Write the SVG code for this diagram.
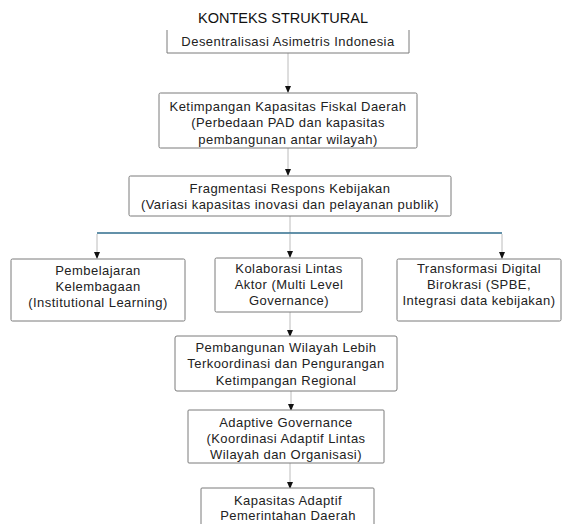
<svg xmlns="http://www.w3.org/2000/svg" width="569" height="524" viewBox="0 0 569 524">
<defs>
<style>
.box{fill:#fff;stroke:#7a7a7a;stroke-width:1}
.t{font-family:"Liberation Sans",Arial,sans-serif;font-size:13px;letter-spacing:0.45px;fill:#222;text-anchor:middle}
.title{font-family:"Liberation Sans",Arial,sans-serif;font-size:14.5px;fill:#111;text-anchor:middle}
.c{stroke:#b4b4b4;stroke-width:0.9;fill:none}
.blue{stroke:#2f6d8c;stroke-width:1.6;fill:none}
</style>
<marker id="ah" markerWidth="7" markerHeight="6" refX="6" refY="3" orient="auto" markerUnits="userSpaceOnUse">
<path d="M0,0 L7,3 L0,6 Z" fill="#111"/>
</marker>
</defs>
<text class="title" x="283" y="23">KONTEKS STRUKTURAL</text>
<g id="connectors">
<line class="c" x1="288" y1="53" x2="288" y2="92" marker-end="url(#ah)"/>
<line class="c" x1="288" y1="148" x2="288" y2="175" marker-end="url(#ah)"/>
<line class="c" x1="290" y1="216" x2="290" y2="233"/>
<line class="blue" x1="97" y1="233" x2="502" y2="233"/>
<line class="c" x1="97" y1="234" x2="97" y2="258" marker-end="url(#ah)"/>
<line class="c" x1="290" y1="234" x2="290" y2="257" marker-end="url(#ah)"/>
<line class="c" x1="502" y1="234" x2="502" y2="258" marker-end="url(#ah)"/>
<line class="c" x1="290" y1="312" x2="290" y2="336" marker-end="url(#ah)"/>
<line class="c" x1="291" y1="391" x2="291" y2="410" marker-end="url(#ah)"/>
<line class="c" x1="290" y1="463" x2="290" y2="488" marker-end="url(#ah)"/>
</g>
<g id="n1">
<rect x="167" y="30" width="242" height="23" fill="#fff"/>
<path class="box" d="M167,30 V53 H409 V30" fill="none"/>
<text class="t" x="288" y="46">Desentralisasi Asimetris Indonesia</text>
</g>
<g id="n2">
<rect class="box" x="159" y="93" width="258" height="55" rx="1.5"/>
<text class="t" x="288" y="111">Ketimpangan Kapasitas Fiskal Daerah</text>
<text class="t" x="288" y="127">(Perbedaan PAD dan kapasitas</text>
<text class="t" x="288" y="144">pembangunan antar wilayah)</text>
</g>
<g id="n3">
<rect class="box" x="129" y="176" width="322" height="40" rx="1.5"/>
<text class="t" x="290" y="193">Fragmentasi Respons Kebijakan</text>
<text class="t" x="290" y="209">(Variasi kapasitas inovasi dan pelayanan publik)</text>
</g>
<g id="n4">
<rect class="box" x="11" y="259" width="174" height="62" rx="1.5"/>
<text class="t" x="98" y="275">Pembelajaran</text>
<text class="t" x="98" y="291">Kelembagaan</text>
<text class="t" x="98" y="307">(Institutional Learning)</text>
</g>
<g id="n5">
<rect class="box" x="215" y="258" width="147" height="54" rx="1.5"/>
<text class="t" x="289" y="273">Kolaborasi Lintas</text>
<text class="t" x="289" y="289">Aktor (Multi Level</text>
<text class="t" x="289" y="305">Governance)</text>
</g>
<g id="n6">
<rect class="box" x="397" y="259" width="164" height="62" rx="1.5"/>
<text class="t" x="479" y="273">Transformasi Digital</text>
<text class="t" x="479" y="289">Birokrasi (SPBE,</text>
<text class="t" x="479" y="305">Integrasi data kebijakan)</text>
</g>
<g id="n7">
<rect class="box" x="175" y="336" width="222" height="55" rx="2"/>
<text class="t" x="286" y="352">Pembangunan Wilayah Lebih</text>
<text class="t" x="286" y="368">Terkoordinasi dan Pengurangan</text>
<text class="t" x="286" y="385">Ketimpangan Regional</text>
</g>
<g id="n8">
<rect class="box" x="188" y="410" width="196" height="53" rx="1"/>
<text class="t" x="286" y="427">Adaptive Governance</text>
<text class="t" x="286" y="443">(Koordinasi Adaptif Lintas</text>
<text class="t" x="286" y="459">Wilayah dan Organisasi)</text>
</g>
<g id="n9">
<rect class="box" x="201" y="488" width="173" height="44" rx="1"/>
<text class="t" x="288" y="505">Kapasitas Adaptif</text>
<text class="t" x="288" y="520">Pemerintahan Daerah</text>
</g>
</svg>
